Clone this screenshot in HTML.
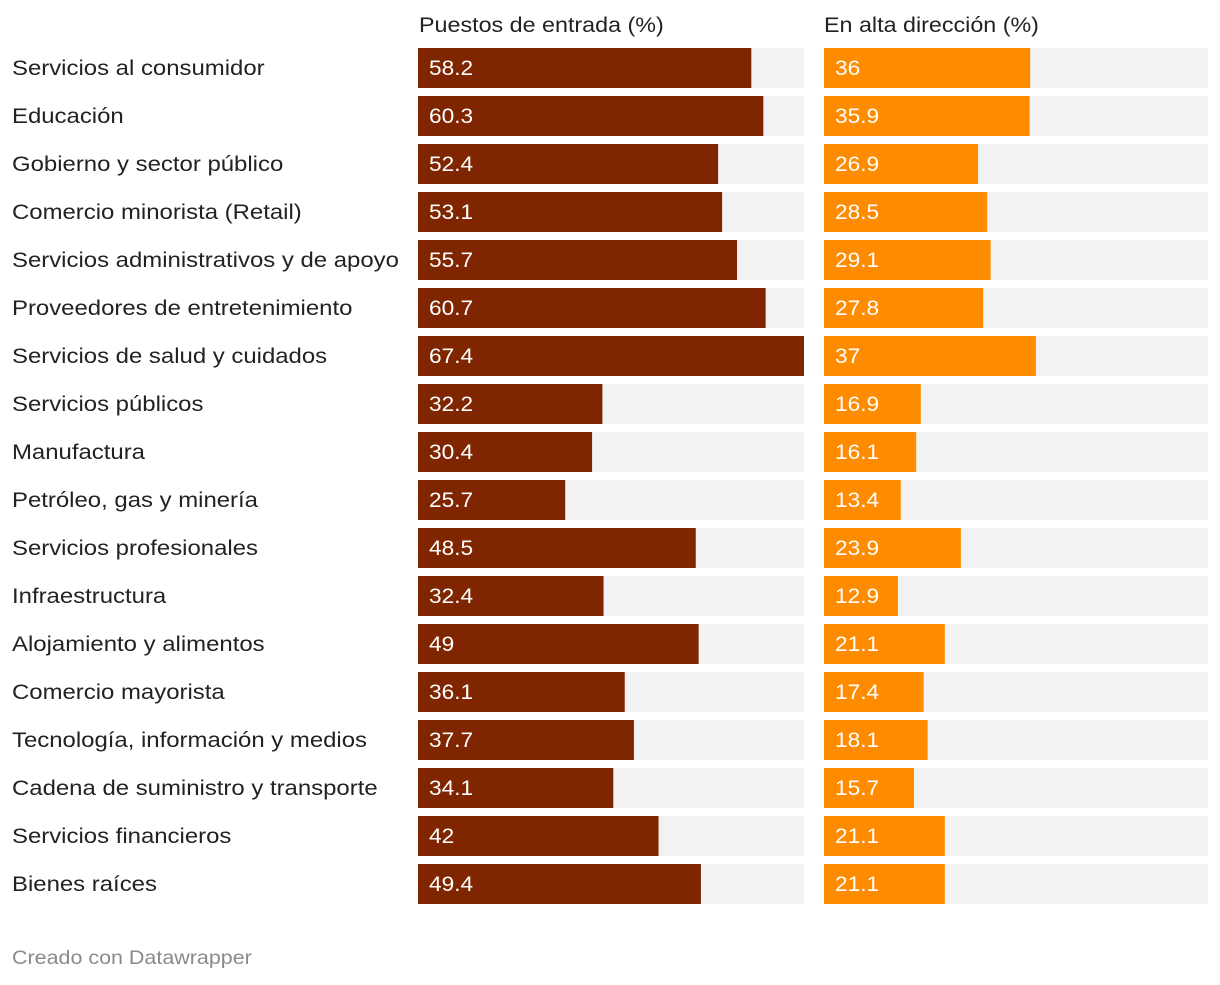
<!DOCTYPE html>
<html><head><meta charset="utf-8">
<style>
body{margin:0;background:#fff;width:1220px;height:980px;overflow:hidden;font-family:"Liberation Sans",sans-serif;}
svg text{font-family:"Liberation Sans",sans-serif;}
</style></head>
<body>
<svg id="chart" width="1220" height="980" xmlns="http://www.w3.org/2000/svg">
<text transform="translate(419,32) scale(1.11,1)" font-size="21" fill="#222">Puestos de entrada (%)</text>
<text transform="translate(824,32) scale(1.11,1)" font-size="21" fill="#222">En alta dirección (%)</text>
<text transform="translate(12,964) scale(1.13,1)" font-size="19" fill="#8a8a8a">Creado con Datawrapper</text>
</svg>
<script>
const categories=["Servicios al consumidor","Educación","Gobierno y sector público","Comercio minorista (Retail)","Servicios administrativos y de apoyo","Proveedores de entretenimiento","Servicios de salud y cuidados","Servicios públicos","Manufactura","Petróleo, gas y minería","Servicios profesionales","Infraestructura","Alojamiento y alimentos","Comercio mayorista","Tecnología, información y medios","Cadena de suministro y transporte","Servicios financieros","Bienes raíces"];
const entryValues=[58.2,60.3,52.4,53.1,55.7,60.7,67.4,32.2,30.4,25.7,48.5,32.4,49,36.1,37.7,34.1,42,49.4];
const seniorValues=[36,35.9,26.9,28.5,29.1,27.8,37,16.9,16.1,13.4,23.9,12.9,21.1,17.4,18.1,15.7,21.1,21.1];
const svg=document.getElementById('chart');
const NS="http://www.w3.org/2000/svg";
const maxV=Math.max(...entryValues,...seniorValues);
function yRow(i){return 48+i*48;}
function mk(tag,attrs){const e=document.createElementNS(NS,tag);for(const k in attrs)e.setAttribute(k,attrs[k]);svg.appendChild(e);return e;}
const cols=[{x0:418,w:386,vals:entryValues,color:"#7f2600",key:"entry"},{x0:824,w:384,vals:seniorValues,color:"#ff8c00",key:"senior"}];
categories.forEach((c,i)=>{
  const y=yRow(i);
  const t=mk('text',{transform:'translate(12,'+(y+27)+') scale(1.14,1)','font-size':21,fill:'#222'});
  t.textContent=c;
  
  
  cols.forEach(col=>{
    const bg=mk('rect',{x:col.x0,y:y,width:col.w,height:40,fill:'#f2f2f2'});
    
    
    const v=col.vals[i];
    const bw=386*v/maxV;
    const b=mk('rect',{x:col.x0,y:y,width:bw,height:40,fill:col.color});
    
    
    const vt=mk('text',{transform:'translate('+(col.x0+11)+','+(y+27)+') scale(1.08,1)','font-size':21,fill:'#fff'});
    vt.textContent=String(v);
    
    
  });
});
</script>
</body></html>
